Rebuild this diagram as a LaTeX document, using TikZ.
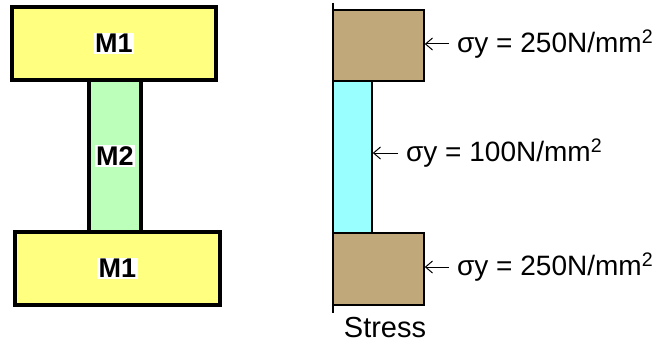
\documentclass[tikz,border=0pt]{standalone}
\usepackage{fontspec}
\setmainfont{Liberation Sans}
\usepackage{tikz}
\usetikzlibrary{arrows.meta}

\definecolor{flangeyellow}{RGB}{255,255,128}
\definecolor{webgreen}{RGB}{187,255,187}
\definecolor{stresstan}{RGB}{192,168,122}
\definecolor{stresscyan}{RGB}{153,255,255}

\begin{document}
\begin{tikzpicture}[
  x=1pt, y=-1pt,
  member/.style={draw, line width=3.5pt, inner sep=0pt},
  tag/.style={fill=white, inner sep=1.5pt, font=\fontsize{27}{31}\selectfont\bfseries},
  block/.style={draw, line width=1.5pt, inner sep=0pt},
  lbl/.style={anchor=west, inner xsep=8pt, inner ysep=0pt, font=\fontsize{28}{33}\selectfont},
  arrow/.style={-{Straight Barb[length=7pt,width=12pt]}, line width=1pt},
]
  \useasboundingbox (0,0) rectangle (669,345);

  % cross section
  \node[member, fill=flangeyellow, minimum width=204pt, minimum height=73pt] (top) at (114,43.5) {};
  \node[member, fill=webgreen, minimum width=52pt, minimum height=152pt] (web) at (115,156) {};
  \node[member, fill=flangeyellow, minimum width=205pt, minimum height=73pt] (bot) at (117.5,268.5) {};
  \node[tag] (topm) at (top.center) {M1};
  \node[tag] (webm) at (web.center) {M2};
  \node[tag] (botm) at (bot.center) {M1};

  % stress blocks
  \node[block, fill=stresstan, minimum width=91pt, minimum height=71pt] (stop) at (378.5,45.5) {};
  \node[block, fill=stresscyan, minimum width=39pt, minimum height=152pt] (smid) at (352.5,157) {};
  \node[block, fill=stresstan, minimum width=91pt, minimum height=72pt] (sbot) at (378.5,269) {};
  \coordinate (axtop) at (333,3);
  \coordinate (axbot) at (333,313);
  \draw[line width=1.5pt] (axtop) -- (axbot);
  \node[font=\fontsize{29}{33}\selectfont] (stress) at (385,328) {Stress};

  \node[lbl] (ltop) at (449,44) {σy = 250N/mm\textsuperscript{2}};
  \node[lbl] (lmid) at (398,153) {σy = 100N/mm\textsuperscript{2}};
  \node[lbl] (lbot) at (449,267) {σy = 250N/mm\textsuperscript{2}};
  \draw[arrow] (ltop.west) -- (stop.east |- ltop.west);
  \draw[arrow] (lmid.west) -- (smid.east |- lmid.west);
  \draw[arrow] (lbot.west) -- (sbot.east |- lbot.west);
\end{tikzpicture}
\end{document}
